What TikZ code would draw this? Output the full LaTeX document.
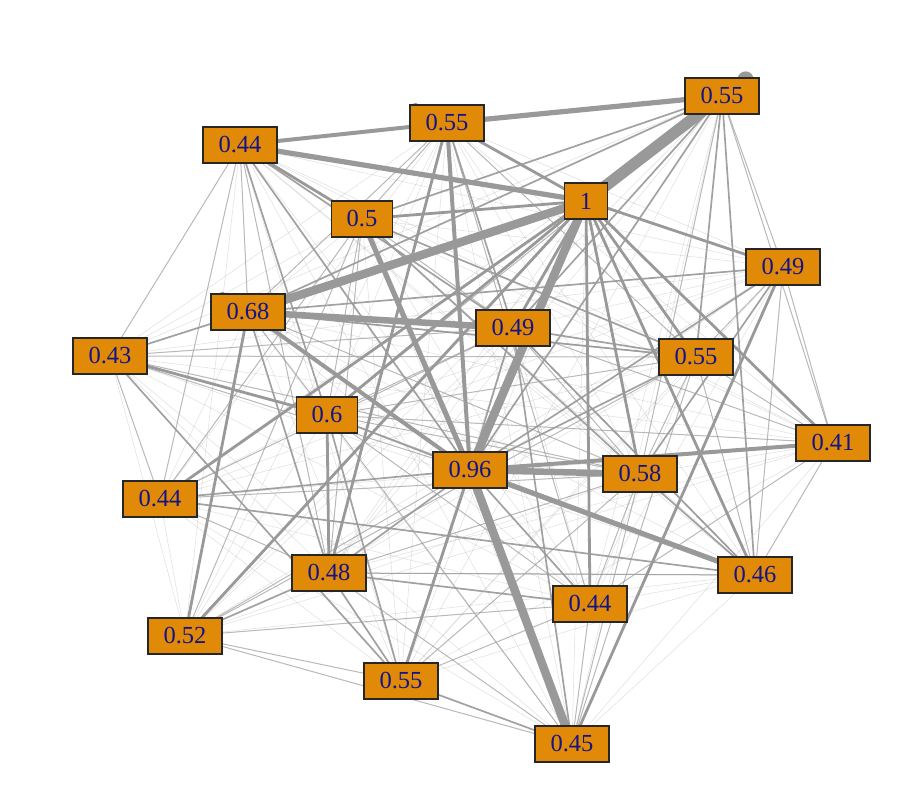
\documentclass[tikz,border=0pt]{standalone}
\usepackage{fontspec}
\setmainfont{Liberation Serif}
\pgfdeclarelayer{bg}
\pgfsetlayers{bg,main}
\definecolor{edgec}{RGB}{153,153,153}
\definecolor{boxc}{RGB}{224,138,8}
\definecolor{textc}{RGB}{20,20,135}
\tikzset{
  box/.style={draw=black!85, line width=1.3pt, fill=boxc, text=textc,
    font=\fontsize{24.5}{24.5}\selectfont, minimum height=36pt, inner ysep=0pt, inner xsep=15.5pt},
  w0/.style={line width=0.6pt, draw=edgec, draw opacity=0.28},
  w1/.style={line width=1pt, draw=edgec, draw opacity=0.6},
  w2/.style={line width=1.7pt, draw=edgec, draw opacity=0.9},
  w3/.style={line width=2.8pt, draw=edgec},
  w4/.style={line width=4pt, draw=edgec},
  w5/.style={line width=5.2pt, draw=edgec},
  w6/.style={line width=6.5pt, draw=edgec},
  w7/.style={line width=8.5pt, draw=edgec},
  w8/.style={line width=11.5pt, draw=edgec},
}
\begin{document}
\begin{tikzpicture}[x=1pt,y=-1pt]
\useasboundingbox (0,0) rectangle (924,807);
\node[box] (A) at (722,96) {0.55};
\node[box] (B) at (447,123) {0.55};
\node[box] (C) at (240,145) {0.44};
\node[box] (D) at (586,201) {1};
\node[box] (E) at (362,219) {0.5};
\node[box] (F) at (783,267) {0.49};
\node[box] (G) at (248,312) {0.68};
\node[box] (H) at (513,328) {0.49};
\node[box] (I) at (110,356) {0.43};
\node[box] (J) at (696,357) {0.55};
\node[box] (K) at (327,415) {0.6};
\node[box] (L) at (833,443) {0.41};
\node[box] (M) at (470,470) {0.96};
\node[box] (N) at (640,474) {0.58};
\node[box] (O) at (160,499) {0.44};
\node[box] (P) at (329,573) {0.48};
\node[box] (Q) at (755,575) {0.46};
\node[box] (R) at (590,604) {0.44};
\node[box] (S) at (185,636) {0.52};
\node[box] (T) at (401,681) {0.55};
\node[box] (U) at (572,744) {0.45};
\begin{pgfonlayer}{bg}
  % faint background mesh
  \foreach \a [count=\i] in {A,B,C,D,E,F,G,H,I,J,K,L,M,N,O,P,Q,R,S,T,U} {
    \foreach \b [count=\j] in {A,B,C,D,E,F,G,H,I,J,K,L,M,N,O,P,Q,R,S,T,U} {
      \ifnum\j>\i \draw[w0] (\a.center) -- (\b.center); \fi
    }
  }
  % light edges
  \foreach \a/\b in {C/I, C/G, B/E, B/G, I/O, I/J, E/O, E/S, G/K, L/H, L/K, L/J, Q/J,
    Q/K, Q/P, U/J, N/R, N/U, H/K, S/J, S/M, O/H, O/P, K/N, K/J, B/R, B/J, F/J, E/P,
    I/H, I/M, I/N, O/N, S/R, S/T, S/U, T/N, T/R, P/N, P/Q, R/L, Q/L, F/L, F/Q, A/L,
    A/F, A/N, A/K, C/P, C/O, E/H, E/K, G/J, G/N, H/N, H/Q, K/R, K/U, P/U, R/U, J/N}
    \draw[w1] (\a.center) -- (\b.center);
  % medium edges
  \foreach \a/\b in {A/G, A/H, A/M, A/Q, A/E, A/J, C/K, C/M, C/H, I/G, I/T, O/M, O/Q,
    T/P, T/K, T/U, R/M, R/P, Q/N, Q/H, F/G, F/M, F/N, N/E, J/H, J/G, E/J, B/H, K/M,
    S/P, P/M, H/M, H/U, G/P, M/J}
    \draw[w2] (\a.center) -- (\b.center);
  % stronger edges
  \foreach \a/\b in {D/F, D/O, D/S, D/R, D/H, D/B, K/P, T/M, I/K, C/E, P/B, U/F,
    D/J, D/L, D/K, S/G, D/N, D/Q, D/E}
    \draw[w3] (\a.center) -- (\b.center);
  \foreach \a/\b in {C/B, B/M, G/M, M/L}
    \draw[w4] (\a.center) -- (\b.center);
  \foreach \a/\b in {B/A, D/C, M/E, M/Q}
    \draw[w5] (\a.center) -- (\b.center);
  \foreach \a/\b in {M/N, G/H}
    \draw[w6] (\a.center) -- (\b.center);
  \foreach \a/\b in {D/M, M/U}
    \draw[w7] (\a.center) -- (\b.center);
  \draw[w8] (D.center) -- (A.center);
  \draw[w7] (D.center) -- (G.center);
  % self loops peeking out
  \fill[edgec] ([xshift=-14pt,yshift=-2pt]A.north east) circle (8pt);
  \fill[edgec] ([xshift=6pt,yshift=-2pt]B.north west) circle (3.5pt);
  \fill[edgec] ([xshift=12pt,yshift=-2pt]G.north west) circle (3.5pt);
\end{pgfonlayer}
\end{tikzpicture}
\end{document}
